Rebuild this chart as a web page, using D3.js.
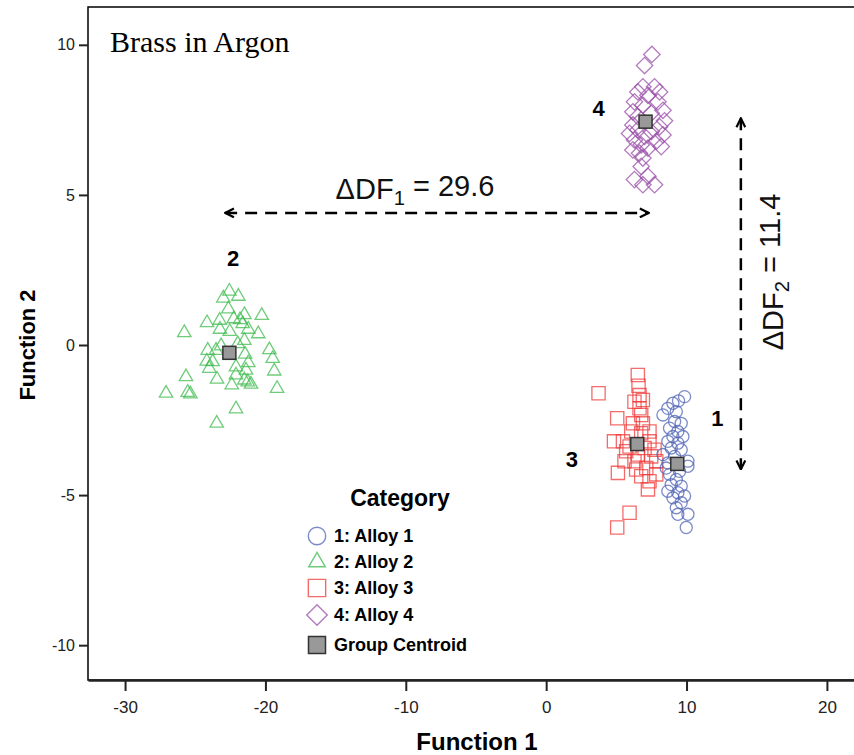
<!DOCTYPE html>
<html>
<head>
<meta charset="utf-8">
<script src="https://cdn.jsdelivr.net/npm/d3@7"></script>
<style>
  body { margin: 0; background: #fff; }
  svg { display: block; }
</style>
</head>
<body>
<div id="chart"></div>
<script>
// group 1 - alloy 1 (circles)
var alloy1X = [9.86, 9.43, 9.03, 8.67, 8.32, 9.27, 9.15, 9.62, 8.79, 9.38, 9.03, 9.74, 8.67, 9.38, 8.91, 9.62, 8.32, 9.15,
  10.10, 8.67, 10.10, 8.55, 9.50, 8.79, 9.27, 8.91, 9.62, 8.67, 9.38, 9.86, 9.03, 9.62, 9.27, 10.10, 9.38, 9.98];
var alloy1Y = [-1.72, -1.86, -1.94, -2.11, -2.33, -2.22, -2.55, -2.61, -2.77, -2.88, -3.05, -3.05, -3.21, -3.27, -3.43, -3.49, -3.65, -3.71,
  -3.87, -3.93, -4.04, -4.10, -4.21, -4.31, -4.48, -4.65, -4.70, -4.87, -4.92, -5.03, -5.09, -5.25, -5.42, -5.64, -5.64, -6.08];
// group 2 - alloy 2 (triangles)
var alloy2X = [-22.57, -23.00, -21.93, -22.64, -21.50, -20.26, -24.16, -23.26, -22.26, -21.81, -21.62, -25.78, -23.24, -22.54, -21.22,
  -20.51, -21.50, -21.97, -24.11, -23.52, -23.16, -19.72, -21.45, -19.48, -24.18, -23.76, -21.22, -22.10, -24.00, -21.38, -19.37,
  -25.66, -23.45, -22.10, -21.50, -22.40, -21.03, -21.26, -19.17, -27.08, -25.54, -25.35, -22.10, -23.47];
var alloy2Y = [1.79, 1.56, 1.62, 1.20, 1.01, 0.98, 0.74, 0.82, 0.87, 0.84, 0.71, 0.41, 0.52, 0.45, 0.52,
  0.37, 0.15, 0.04, -0.18, -0.18, -0.03, -0.16, -0.31, -0.45, -0.54, -0.56, -0.59, -0.73, -0.78, -0.84, -0.87,
  -1.06, -1.14, -1.00, -1.17, -1.33, -1.31, -1.23, -1.45, -1.61, -1.58, -1.63, -2.13, -2.61];
// group 3 - alloy 3 (squares)
var alloy3X = [6.53, 6.58, 3.73, 6.65, 6.29, 6.89, 6.65, 5.06, 6.77, 6.18, 6.89, 7.36, 6.06, 6.77, 4.83, 5.47, 7.36, 5.94,
  7.01, 7.72, 5.70, 6.53, 7.48, 5.58, 6.29, 7.84, 5.11, 6.41, 7.13, 7.84, 6.77, 7.36, 7.25, 5.94, 5.06];
var alloy3Y = [-1.00, -1.36, -1.61, -1.67, -1.89, -1.83, -2.11, -2.44, -2.33, -2.61, -2.61, -2.88, -2.88, -2.94, -3.21, -3.21, -3.21, -3.38,
  -3.43, -3.49, -3.54, -3.65, -3.71, -3.87, -3.87, -3.87, -4.26, -4.15, -4.10, -4.31, -4.37, -4.54, -4.81, -5.59, -6.08];
// group 4 - alloy 4 (diamonds)
var alloy4X = [7.53, 7.01, 6.89, 7.72, 8.08, 6.53, 7.25, 6.29, 7.96, 6.89, 6.18, 8.32, 7.48, 6.53, 8.43, 6.18, 8.08, 6.53,
  7.48, 5.94, 8.32, 7.01, 6.29, 7.84, 6.77, 8.20, 6.18, 7.25, 6.65, 6.89, 6.77, 6.29, 7.25, 6.89, 7.72];
var alloy4Y = [9.68, 9.31, 8.60, 8.60, 8.43, 8.43, 8.32, 8.10, 8.10, 7.99, 7.77, 7.82, 7.72, 7.61, 7.47, 7.33, 7.27, 7.16,
  7.11, 7.05, 7.00, 6.95, 6.83, 6.78, 6.67, 6.61, 6.50, 6.56, 6.39, 6.23, 5.95, 5.51, 5.62, 5.34, 5.34];

var centroidX = [9.34, -22.57, 6.49, 7.08];
var centroidY = [-3.96, -0.26, -3.30, 7.44];

var groupNames = ["1: Alloy 1", "2: Alloy 2", "3: Alloy 3", "4: Alloy 4"];
var groupLabels = ["1", "2", "3", "4"];
var groupLabelX = [12.2, -22.3, 1.83, 3.74];
var groupLabelY = [-2.42, 2.88, -3.79, 7.9];

var xTicks = [-30, -20, -10, 0, 10, 20];
var yTicks = [-10, -5, 0, 5, 10];

// distance arrows
var df1 = { x1: -22.87, x2: 7.3, y: 4.4, label: "29.6" };
var df2 = { x: 13.87, y1: 7.55, y2: -4.14, label: "11.4" };

var colors = ["#5064b4", "#3dbb4e", "#f03a3a", "#9a4fa8"];

var width = 854, height = 755;
var margin = { top: 7, right: -8, bottom: 75, left: 88 };

var svg = d3.select("#chart").append("svg")
  .attr("width", width)
  .attr("height", height);

var x = d3.scaleLinear().domain([-32.64, 22.5]).range([margin.left, width - margin.right]);
var y = d3.scaleLinear().domain([-11.16, 11.26]).range([height - margin.bottom, margin.top]);

var plotBottom = height - margin.bottom;
var hyphen = function(d) { return String(d); };

// box
svg.append("rect")
  .attr("x", margin.left).attr("y", margin.top)
  .attr("width", width - margin.right - margin.left)
  .attr("height", plotBottom - margin.top)
  .attr("fill", "none").attr("stroke", "#000").attr("stroke-width", 1.5);

// axes
var yAxis = svg.append("g")
  .attr("transform", "translate(" + margin.left + ",0)")
  .call(d3.axisLeft(y).tickValues(yTicks).tickFormat(hyphen).tickSize(9).tickPadding(4));
yAxis.select(".domain").remove();
yAxis.selectAll("line").attr("stroke", "#222").attr("stroke-width", 2);
yAxis.selectAll("text")
  .attr("font-family", "Arial, 'Liberation Sans', sans-serif")
  .attr("font-size", 16).attr("fill", "#222");

var xAxis = svg.append("g")
  .attr("transform", "translate(0," + plotBottom + ")")
  .call(d3.axisBottom(x).tickValues(xTicks).tickFormat(hyphen).tickSize(11).tickSizeOuter(0).tickPadding(10));
xAxis.select(".domain").attr("stroke", "#222").attr("stroke-width", 2.5);
xAxis.selectAll("line").attr("stroke", "#222").attr("stroke-width", 2);
xAxis.selectAll("text")
  .attr("font-family", "'Liberation Sans Narrow', 'Arial Narrow', sans-serif")
  .attr("font-size", 17).attr("fill", "#222");

svg.append("text")
  .attr("x", 477).attr("y", 750)
  .attr("text-anchor", "middle")
  .attr("font-family", "'Liberation Sans Narrow', 'Arial Narrow', sans-serif")
  .attr("font-weight", "bold").attr("font-size", 24)
  .text("Function 1");

svg.append("text")
  .attr("transform", "translate(35," + y(0) + ") rotate(-90)")
  .attr("text-anchor", "middle")
  .attr("font-family", "Arial, 'Liberation Sans', sans-serif")
  .attr("font-weight", "bold").attr("font-size", 22)
  .text("Function 2");

// title
svg.append("text")
  .attr("x", 110).attr("y", 52)
  .attr("font-family", "'Liberation Serif', 'Times New Roman', serif")
  .attr("font-size", 30)
  .text("Brass in Argon");

// markers
var symCircle = d3.symbol().type(d3.symbolCircle).size(115);
var symTriangle = d3.symbol().type(d3.symbolTriangle).size(78);
var symSquare = d3.symbol().type(d3.symbolSquare).size(175);
var symDiamond = d3.symbol().type(d3.symbolSquare).size(135);

function zip(xs, ys) {
  return xs.map(function(v, i) { return { x: v, y: ys[i] }; });
}

var groups = [
  { pts: zip(alloy1X, alloy1Y), sym: symCircle, rot: 0 },
  { pts: zip(alloy2X, alloy2Y), sym: symTriangle, rot: 0 },
  { pts: zip(alloy3X, alloy3Y), sym: symSquare, rot: 0 },
  { pts: zip(alloy4X, alloy4Y), sym: symDiamond, rot: 45 }
];

// draw in order: triangles, diamonds, squares, circles
[1, 3, 2, 0].forEach(function(gi) {
  var g = groups[gi];
  svg.append("g")
    .selectAll("path")
    .data(g.pts)
    .enter()
    .append("path")
      .attr("d", g.sym())
      .attr("transform", function(d) {
        return "translate(" + x(d.x) + "," + y(d.y) + ") rotate(" + g.rot + ")";
      })
      .attr("fill", "none")
      .attr("stroke", colors[gi])
      .attr("stroke-opacity", 0.75)
      .attr("stroke-width", 1.3);
});

// centroids
svg.append("g")
  .selectAll("rect")
  .data(zip(centroidX, centroidY))
  .enter()
  .append("rect")
    .attr("x", function(d) { return x(d.x) - 6.5; })
    .attr("y", function(d) { return y(d.y) - 6.5; })
    .attr("width", 13).attr("height", 13)
    .attr("fill", "#999").attr("stroke", "#333").attr("stroke-width", 1.5);

// group number labels
svg.append("g")
  .selectAll("text")
  .data(groupLabels)
  .enter()
  .append("text")
    .attr("x", function(d, i) { return x(groupLabelX[i]); })
    .attr("y", function(d, i) { return y(groupLabelY[i]); })
    .attr("dy", "0.36em")
    .attr("text-anchor", "middle")
    .attr("font-family", "Arial, 'Liberation Sans', sans-serif")
    .attr("font-weight", "bold").attr("font-size", 22)
    .text(function(d) { return d; });

// arrows
var defs = svg.append("defs");
defs.append("marker")
  .attr("id", "chev")
  .attr("viewBox", "0 0 10 10")
  .attr("refX", 9).attr("refY", 5)
  .attr("markerWidth", 11).attr("markerHeight", 11)
  .attr("markerUnits", "userSpaceOnUse")
  .attr("orient", "auto-start-reverse")
  .append("path")
    .attr("d", "M1,1 L9,5 L1,9")
    .attr("fill", "none").attr("stroke", "#000").attr("stroke-width", 2);

svg.append("line")
  .attr("x1", x(df1.x1)).attr("x2", x(df1.x2))
  .attr("y1", y(df1.y)).attr("y2", y(df1.y))
  .attr("stroke", "#000").attr("stroke-width", 2.5)
  .attr("stroke-dasharray", "12,8")
  .attr("marker-start", "url(#chev)").attr("marker-end", "url(#chev)");

svg.append("line")
  .attr("x1", x(df2.x)).attr("x2", x(df2.x))
  .attr("y1", y(df2.y1)).attr("y2", y(df2.y2))
  .attr("stroke", "#000").attr("stroke-width", 2.5)
  .attr("stroke-dasharray", "12,8")
  .attr("marker-start", "url(#chev)").attr("marker-end", "url(#chev)");

function deltaLabel(sel, sub, val) {
  sel.append("tspan").text("\u0394DF");
  sel.append("tspan").attr("font-size", "0.7em").attr("dy", "0.3em").text(sub);
  sel.append("tspan").attr("dy", "-0.3em").text(" = " + val);
}

var t1 = svg.append("text")
  .attr("x", 415).attr("y", 199)
  .attr("text-anchor", "middle")
  .attr("font-family", "Arial, 'Liberation Sans', sans-serif")
  .attr("font-size", 29).attr("fill", "#111");
deltaLabel(t1, "1", df1.label);

var t2 = svg.append("text")
  .attr("transform", "translate(783,272) rotate(-90)")
  .attr("text-anchor", "middle")
  .attr("font-family", "Arial, 'Liberation Sans', sans-serif")
  .attr("font-size", 29).attr("fill", "#111");
deltaLabel(t2, "2", df2.label);

// legend
var legend = svg.append("g").attr("transform", "translate(317,0)");
legend.append("text")
  .attr("x", 83).attr("y", 506)
  .attr("text-anchor", "middle")
  .attr("font-family", "Arial, 'Liberation Sans', sans-serif")
  .attr("font-weight", "bold").attr("font-size", 23)
  .text("Category");

var legendRows = [536, 562, 588, 615, 645];
var legendSyms = [
  d3.symbol().type(d3.symbolCircle).size(240),
  d3.symbol().type(d3.symbolTriangle).size(120),
  d3.symbol().type(d3.symbolSquare).size(300),
  d3.symbol().type(d3.symbolSquare).size(210)
];
groupNames.forEach(function(name, i) {
  legend.append("path")
    .attr("d", legendSyms[i]())
    .attr("transform", "translate(0," + legendRows[i] + ") rotate(" + (i === 3 ? 45 : 0) + ")")
    .attr("fill", "none").attr("stroke", colors[i])
    .attr("stroke-opacity", 0.75).attr("stroke-width", 1.4);
  legend.append("text")
    .attr("x", 17).attr("y", legendRows[i]).attr("dy", "0.36em")
    .attr("font-family", "Arial, 'Liberation Sans', sans-serif")
    .attr("font-weight", "bold").attr("font-size", 18)
    .text(name);
});
legend.append("rect")
  .attr("x", -8.5).attr("y", legendRows[4] - 8.5)
  .attr("width", 17).attr("height", 17)
  .attr("fill", "#999").attr("stroke", "#333").attr("stroke-width", 1.5);
legend.append("text")
  .attr("x", 17).attr("y", legendRows[4]).attr("dy", "0.36em")
  .attr("font-family", "Arial, 'Liberation Sans', sans-serif")
  .attr("font-weight", "bold").attr("font-size", 18)
  .text("Group Centroid");
</script>
</body>
</html>
